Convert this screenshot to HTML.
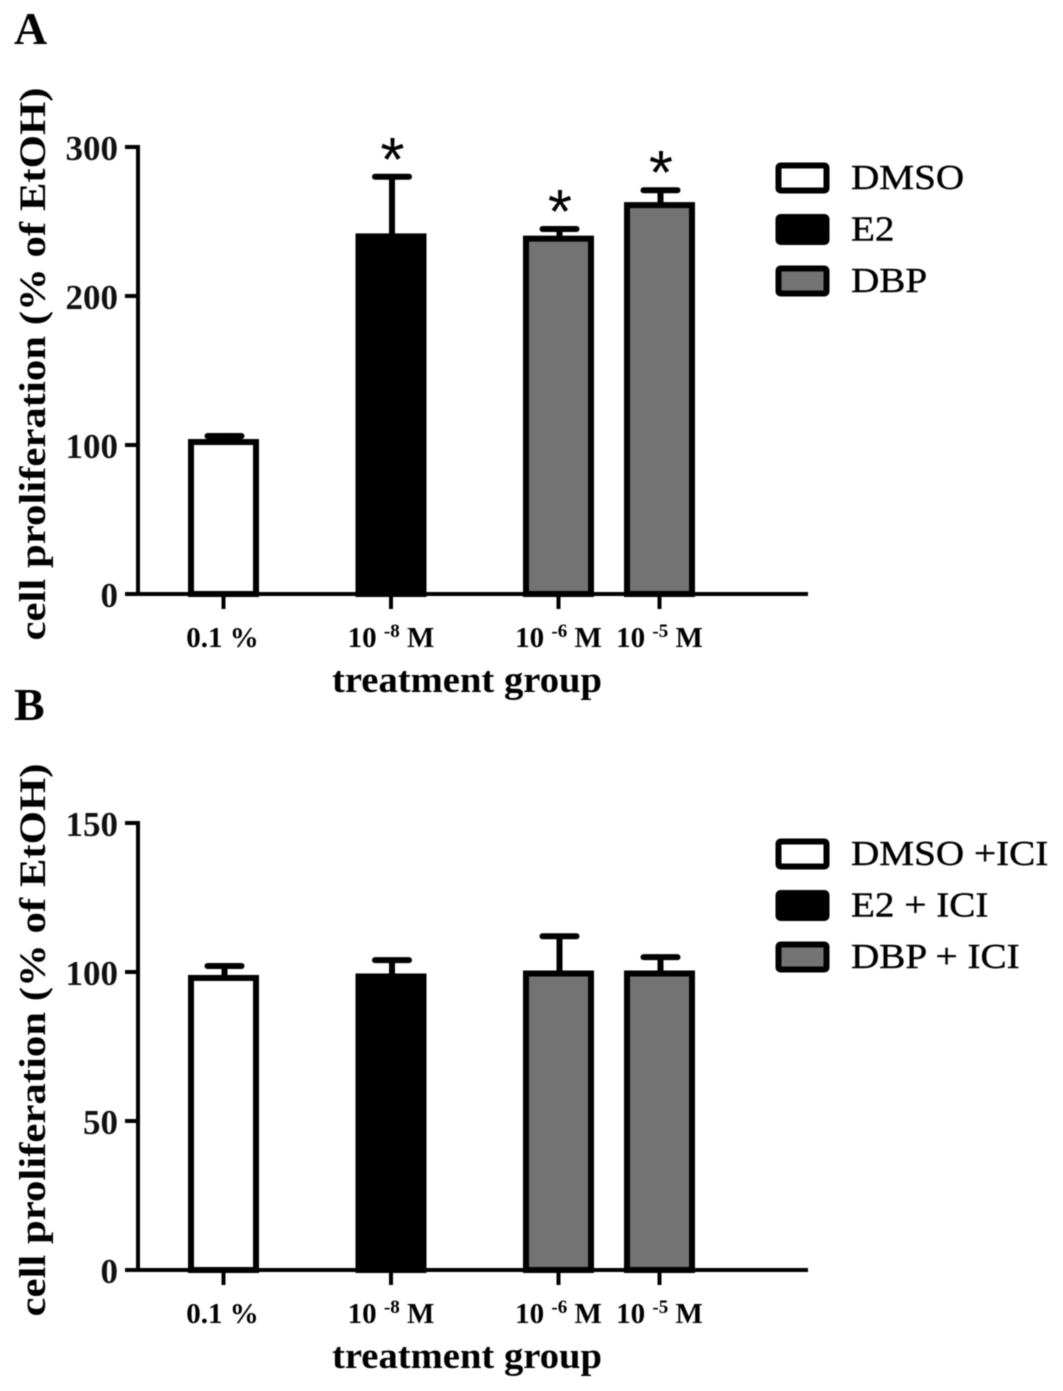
<!DOCTYPE html>
<html>
<head>
<meta charset="utf-8">
<title>Cell proliferation charts</title>
<style>
html,body{margin:0;padding:0;background:#fff;width:1063px;height:1391px;overflow:hidden}
svg{display:block;position:absolute;left:0;top:0;filter:blur(0.4px)}
text{font-family:"Liberation Serif",serif;fill:#000}
.tick{font-weight:bold;font-size:35px;fill:#111}
.cat{font-weight:bold;font-size:29px;fill:#000}
.axt{font-weight:bold;font-size:37px;fill:#000}
.leg{font-size:35px;fill:#000;stroke:#000;stroke-width:0.4px}
.pan{font-weight:bold;font-size:46px}
.star{font-family:"Liberation Sans",sans-serif;font-size:62px}
</style>
</head>
<body>
<svg id="chart" width="1063" height="1391" viewBox="0 0 1063 1391" xmlns="http://www.w3.org/2000/svg"></svg>
<script>
var categories = ["0.1 %", "10 -8 M", "10 -6 M", "10 -5 M"];
var seriesTypes = ["white", "black", "gray", "gray"];
var valuesA = [102, 240, 238.5, 261];
var errorsA = [4, 40, 6.5, 10];
var significantA = [false, true, true, true];
var ticksA = [0, 100, 200, 300];
var legendA = ["DMSO", "E2", "DBP"];
var valuesB = [98, 98.5, 99.5, 99.5];
var errorsB = [4, 5.5, 12.5, 5.5];
var significantB = [false, false, false, false];
var ticksB = [0, 50, 100, 150];
var legendB = ["DMSO +ICI", "E2 + ICI", "DBP + ICI"];

var NS = "http://www.w3.org/2000/svg";
var svg = document.getElementById("chart");
var fills = {white: "#fff", black: "#000", gray: "#737373"};
var catCenters = [223.5, 391, 558.5, 659.5];

function mk(tag, attrs, text) {
  var e = document.createElementNS(NS, tag);
  for (var k in attrs) e.setAttribute(k, attrs[k]);
  if (text !== undefined) e.textContent = text;
  svg.appendChild(e);
  return e;
}

function drawPanel(cfg) {
  var y = function (v) { return cfg.y0 - (v / cfg.max) * 447; };
  var x0 = 138;

  var panel = mk("text", {x: 14, y: cfg.y0 - 550, "class": "pan"}, cfg.letter);
  
  

  var yTitle = mk("text", {
    "class": "axt",
    "text-anchor": "middle",
    textLength: 553,
    lengthAdjust: "spacingAndGlyphs",
    transform: "translate(45," + (cfg.y0 - 230) + ") rotate(-90)"
  }, "cell proliferation (% of EtOH)");
  
  

  var yAxis = mk("line", {x1: x0, y1: y(cfg.max) - 2, x2: x0, y2: cfg.y0 + 2, stroke: "#000", "stroke-width": 4});
  
  

  var xAxis = mk("line", {x1: x0, y1: cfg.y0, x2: 808, y2: cfg.y0, stroke: "#000", "stroke-width": 4});
  
  

  cfg.ticks.forEach(function (t) {
    var mark = mk("line", {x1: 125, y1: y(t), x2: x0, y2: y(t), stroke: "#000", "stroke-width": 4});
    
    
    var label = mk("text", {x: 118, y: y(t) + 13, "class": "tick", "text-anchor": "end"}, String(t));
    
    
  });

  cfg.values.forEach(function (v, i) {
    var cx = catCenters[i];
    var top = y(v);
    var errTop = y(v + cfg.errors[i]);

    var stem = mk("line", {x1: cx + 1, y1: top, x2: cx + 1, y2: errTop, stroke: "#000", "stroke-width": 6});
    
    
    var cap = mk("line", {x1: cx - 16, y1: errTop, x2: cx + 18, y2: errTop, stroke: "#000", "stroke-width": 6, "stroke-linecap": "round"});
    
    

    var bar = mk("rect", {x: cx - 32.5, y: top, width: 65, height: cfg.y0 - top, fill: fills[cfg.types[i]], stroke: "#000", "stroke-width": 6});
    
    

    var tick = mk("line", {x1: cx, y1: cfg.y0, x2: cx, y2: cfg.y0 + 15, stroke: "#000", "stroke-width": 4});
    
    

    var parts = categories[i].split(" ");
    var cat = mk("text", {x: cx + (i === 0 ? -1 : 0), y: cfg.y0 + 53, "class": "cat", "text-anchor": "middle"});
    
    
    if (parts.length === 3) {
      var a = document.createElementNS(NS, "tspan");
      a.textContent = parts[0] + " ";
      cat.appendChild(a);
      var b = document.createElementNS(NS, "tspan");
      b.setAttribute("font-size", "19");
      b.setAttribute("dy", "-10");
      b.textContent = parts[1];
      cat.appendChild(b);
      var c = document.createElementNS(NS, "tspan");
      c.setAttribute("dy", "10");
      c.textContent = " " + parts[2];
      cat.appendChild(c);
    } else {
      cat.textContent = categories[i];
    }

    if (cfg.significant[i]) {
      var star = mk("text", {x: cx + 1.5, y: errTop + 4, "class": "star", "text-anchor": "middle"}, "*");
      
      
    }
  });

  var xTitle = mk("text", {
    x: 467, y: cfg.y0 + 98, "class": "axt", "text-anchor": "middle",
    textLength: 270, lengthAdjust: "spacingAndGlyphs"
  }, "treatment group");
  
  

  cfg.legend.forEach(function (name, i) {
    var ly = cfg.y0 - 416 + i * 51.5;
    var swatch = mk("rect", {x: 778.5, y: ly - 12.5, width: 48, height: 25, rx: 2, fill: fills[["white", "black", "gray"][i]], stroke: "#000", "stroke-width": 6});
    
    
    var label = mk("text", {transform: "translate(851," + (ly + 11) + ") scale(1.12,1)", "class": "leg"}, name);
    
    
  });
}

drawPanel({letter: "A", y0: 594, max: 300, values: valuesA, errors: errorsA, types: seriesTypes, ticks: ticksA, legend: legendA, significant: significantA});
drawPanel({letter: "B", y0: 1270, max: 150, values: valuesB, errors: errorsB, types: seriesTypes, ticks: ticksB, legend: legendB, significant: significantB});
</script>
</body>
</html>
